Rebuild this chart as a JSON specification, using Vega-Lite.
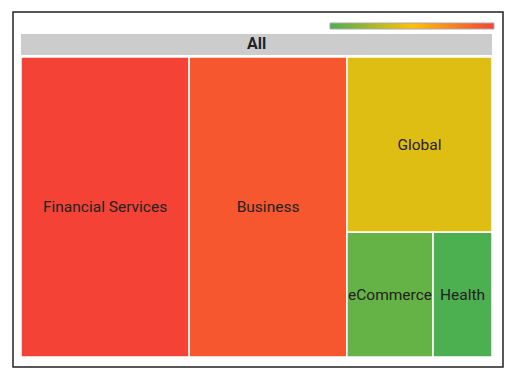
{
  "$schema": "https://vega.github.io/schema/vega-lite/v6.json",
  "width": 490,
  "height": 355,
  "autosize": "none",
  "padding": {"left": 13, "top": 12, "right": 7, "bottom": 10},
  "background": "white",
  "config": {
    "view": {"stroke": "#222222", "strokeWidth": 1.5},
    "font": "Roboto"
  },
  "layer": [
    {
      "data": {"values": [{"name": "All", "start": 0, "end": 1, "top": -0.0767, "bottom": -0.0067}]},
      "layer": [
        {
          "mark": {"type": "rect", "color": "#cccccc"},
          "encoding": {
            "x": {"field": "start", "type": "quantitative", "axis": null, "scale": {"domain": [0, 1], "range": [8, 479], "nice": false, "zero": false}},
            "x2": {"field": "end"},
            "y": {"field": "top", "type": "quantitative", "axis": null, "scale": {"domain": [0, 1], "range": [45, 345], "nice": false, "zero": false}},
            "y2": {"field": "bottom"}
          }
        },
        {
          "transform": [
            {"calculate": "(datum.start + datum.end) / 2", "as": "xc"},
            {"calculate": "(datum.top + datum.bottom) / 2", "as": "yc"}
          ],
          "mark": {"type": "text", "fontWeight": "bold", "fontSize": 16, "color": "#222222", "baseline": "middle", "align": "center"},
          "encoding": {
            "x": {"field": "xc", "type": "quantitative"},
            "y": {"field": "yc", "type": "quantitative"},
            "text": {"field": "name"}
          }
        }
      ]
    },
    {
      "data": {
        "values": [
          {"name": "Financial Services", "value": 35.7, "score": 1.0},
          {"name": "Business", "value": 33.5, "score": 0.92},
          {"name": "Global", "value": 18.0, "score": 0.41},
          {"name": "eCommerce", "value": 7.6, "score": 0.07},
          {"name": "Health", "value": 5.2, "score": 0.0}
        ]
      },
      "transform": [
        {"joinaggregate": [{"op": "sum", "field": "value", "as": "total"}]},
        {"window": [{"op": "row_number", "as": "rank"}, {"op": "sum", "field": "value", "as": "cum"}], "sort": [{"field": "value", "order": "descending"}], "frame": [null, 0]},
        {"calculate": "datum.cum - datum.value", "as": "start"},
        {"calculate": "datum.rank == 3 ? datum.start : null", "as": "s3"},
        {"calculate": "datum.rank == 3 ? datum.value : null", "as": "v3"},
        {"joinaggregate": [{"op": "max", "field": "s3", "as": "c3"}, {"op": "max", "field": "v3", "as": "g3"}]},
        {"calculate": "datum.rank <= 2 ? datum.start / datum.total : datum.rank == 3 ? datum.c3 / datum.total : (datum.c3 + (datum.start - datum.c3 - datum.g3) / (datum.total - datum.c3 - datum.g3) * (datum.total - datum.c3)) / datum.total", "as": "x0"},
        {"calculate": "datum.rank <= 2 ? datum.cum / datum.total : datum.rank == 3 ? 1 : (datum.c3 + (datum.cum - datum.c3 - datum.g3) / (datum.total - datum.c3 - datum.g3) * (datum.total - datum.c3)) / datum.total", "as": "x1"},
        {"calculate": "datum.rank <= 3 ? 0 : datum.g3 / (datum.total - datum.c3)", "as": "y0"},
        {"calculate": "datum.rank == 3 ? datum.g3 / (datum.total - datum.c3) : 1", "as": "y1"},
        {"calculate": "(datum.x0 + datum.x1) / 2", "as": "xc"},
        {"calculate": "(datum.y0 + datum.y1) / 2", "as": "yc"}
      ],
      "layer": [
        {
          "mark": {"type": "rect", "stroke": "white", "strokeWidth": 1.5},
          "encoding": {
            "x": {"field": "x0", "type": "quantitative"},
            "x2": {"field": "x1"},
            "y": {"field": "y0", "type": "quantitative"},
            "y2": {"field": "y1"},
            "color": {
              "field": "score",
              "type": "quantitative",
              "scale": {"domain": [0, 1], "range": ["#4CAF50", "#FFC107", "#F44336"], "interpolate": "rgb"},
              "legend": {
                "orient": "none",
                "legendX": 317,
                "legendY": 11,
                "direction": "horizontal",
                "gradientLength": 164,
                "gradientThickness": 6,
                "gradientStrokeColor": "#aaaaaa",
                "gradientStrokeWidth": 1,
                "values": [],
                "title": null
              }
            }
          }
        },
        {
          "mark": {"type": "text", "fontSize": 15.5, "color": "#222222", "baseline": "middle", "align": "center"},
          "encoding": {
            "x": {"field": "xc", "type": "quantitative"},
            "y": {"field": "yc", "type": "quantitative"},
            "text": {"field": "name"}
          }
        }
      ]
    }
  ]
}
